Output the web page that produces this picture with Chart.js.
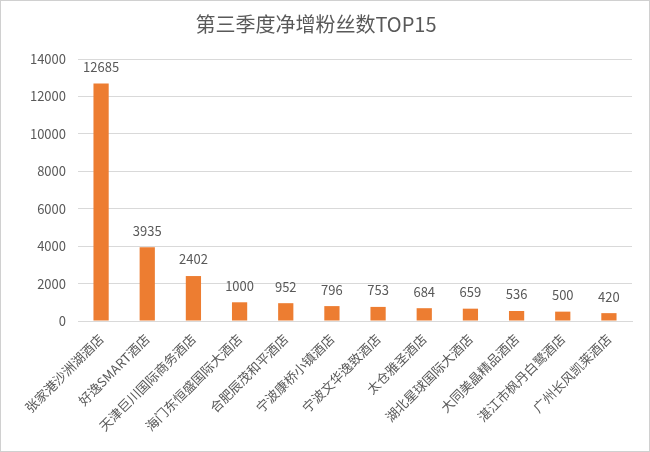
<!DOCTYPE html>
<html>
<head>
<meta charset="utf-8">
<script src="https://cdn.jsdelivr.net/npm/chart.js@4"></script>
<style>
  html, body { margin: 0; padding: 0; background: #fff; }
  #wrap { width: 650px; height: 452px; }
</style>
</head>
<body>
<div id="wrap"><canvas id="fansChart"></canvas></div>
<script>
// hotel names and net new followers in Q3
const hotels = [
    '张家港沙洲湖酒店',
    '好逸SMART酒店',
    '天津巨川国际商务酒店',
    '海门东恒盛国际大酒店',
    '合肥辰茂和平酒店',
    '宁波康桥小镇酒店',
    '宁波文华逸致酒店',
    '太仓雅圣酒店',
    '湖北星球国际大酒店',
    '大同美晶精品酒店',
    '湛江市枫丹白鹭酒店',
    '广州长风凯莱酒店'
];
const netFans = [12685, 3935, 2402, 1000, 952, 796, 753, 684, 659, 536, 500, 420];
const yTicks = [0, 2000, 4000, 6000, 8000, 10000, 12000, 14000];

const textColor = '#595959';
const fontFamily = '"Microsoft YaHei", "Noto Sans CJK SC", sans-serif';

// value labels above each bar
const valueLabels = {
    id: 'valueLabels',
    afterDatasetsDraw(chart) {
        const ctx = chart.ctx;
        const meta = chart.getDatasetMeta(0);
        ctx.save();
        ctx.fillStyle = textColor;
        ctx.font = '13px ' + fontFamily;
        ctx.textAlign = 'center';
        ctx.textBaseline = 'bottom';
        meta.data.forEach((bar, i) => {
            ctx.fillText(netFans[i], bar.x, bar.y - 10);
        });
        ctx.restore();
    }
};

// thin frame round the whole picture
const frame = {
    id: 'frame',
    afterDraw(chart) {
        const ctx = chart.ctx;
        ctx.save();
        ctx.strokeStyle = '#d0d0d0';
        ctx.lineWidth = 1;
        ctx.strokeRect(0.5, 0.5, chart.width - 1, chart.height - 1);
        ctx.restore();
    }
};

new Chart(document.getElementById('fansChart'), {
    type: 'bar',
    data: {
        labels: hotels,
        datasets: [{
            data: netFans,
            backgroundColor: '#ED7D31',
            barPercentage: 0.66,
            categoryPercentage: 0.5
        }]
    },
    options: {
        responsive: true,
        maintainAspectRatio: false,
        animation: false,
        layout: { padding: { left: 0, right: 18, top: 0, bottom: 0 } },
        plugins: {
            legend: { display: false },
            tooltip: { enabled: false },
            title: {
                display: true,
                text: '第三季度净增粉丝数TOP15',
                color: textColor,
                font: { size: 20, family: fontFamily, weight: 'normal' },
                padding: { top: 12, bottom: 23 }
            }
        },
        scales: {
            y: {
                min: 0,
                max: 14000,
                afterBuildTicks(scale) {
                    scale.ticks = yTicks.map(v => ({ value: v }));
                },
                afterFit(scale) { scale.width = 78; },
                grid: { color: '#d9d9d9', drawTicks: false },
                border: { display: false },
                ticks: {
                    color: textColor,
                    padding: 12,
                    font: { size: 13, family: fontFamily },
                    callback: v => String(v)
                }
            },
            x: {
                afterFit(scale) { scale.height = 131; },
                grid: { display: false },
                border: { color: '#d9d9d9' },
                ticks: {
                    color: textColor,
                    minRotation: 45,
                    maxRotation: 45,
                    autoSkip: false,
                    padding: 2,
                    font: { size: 13, family: fontFamily }
                }
            }
        }
    },
    plugins: [valueLabels, frame]
});
</script>
</body>
</html>
